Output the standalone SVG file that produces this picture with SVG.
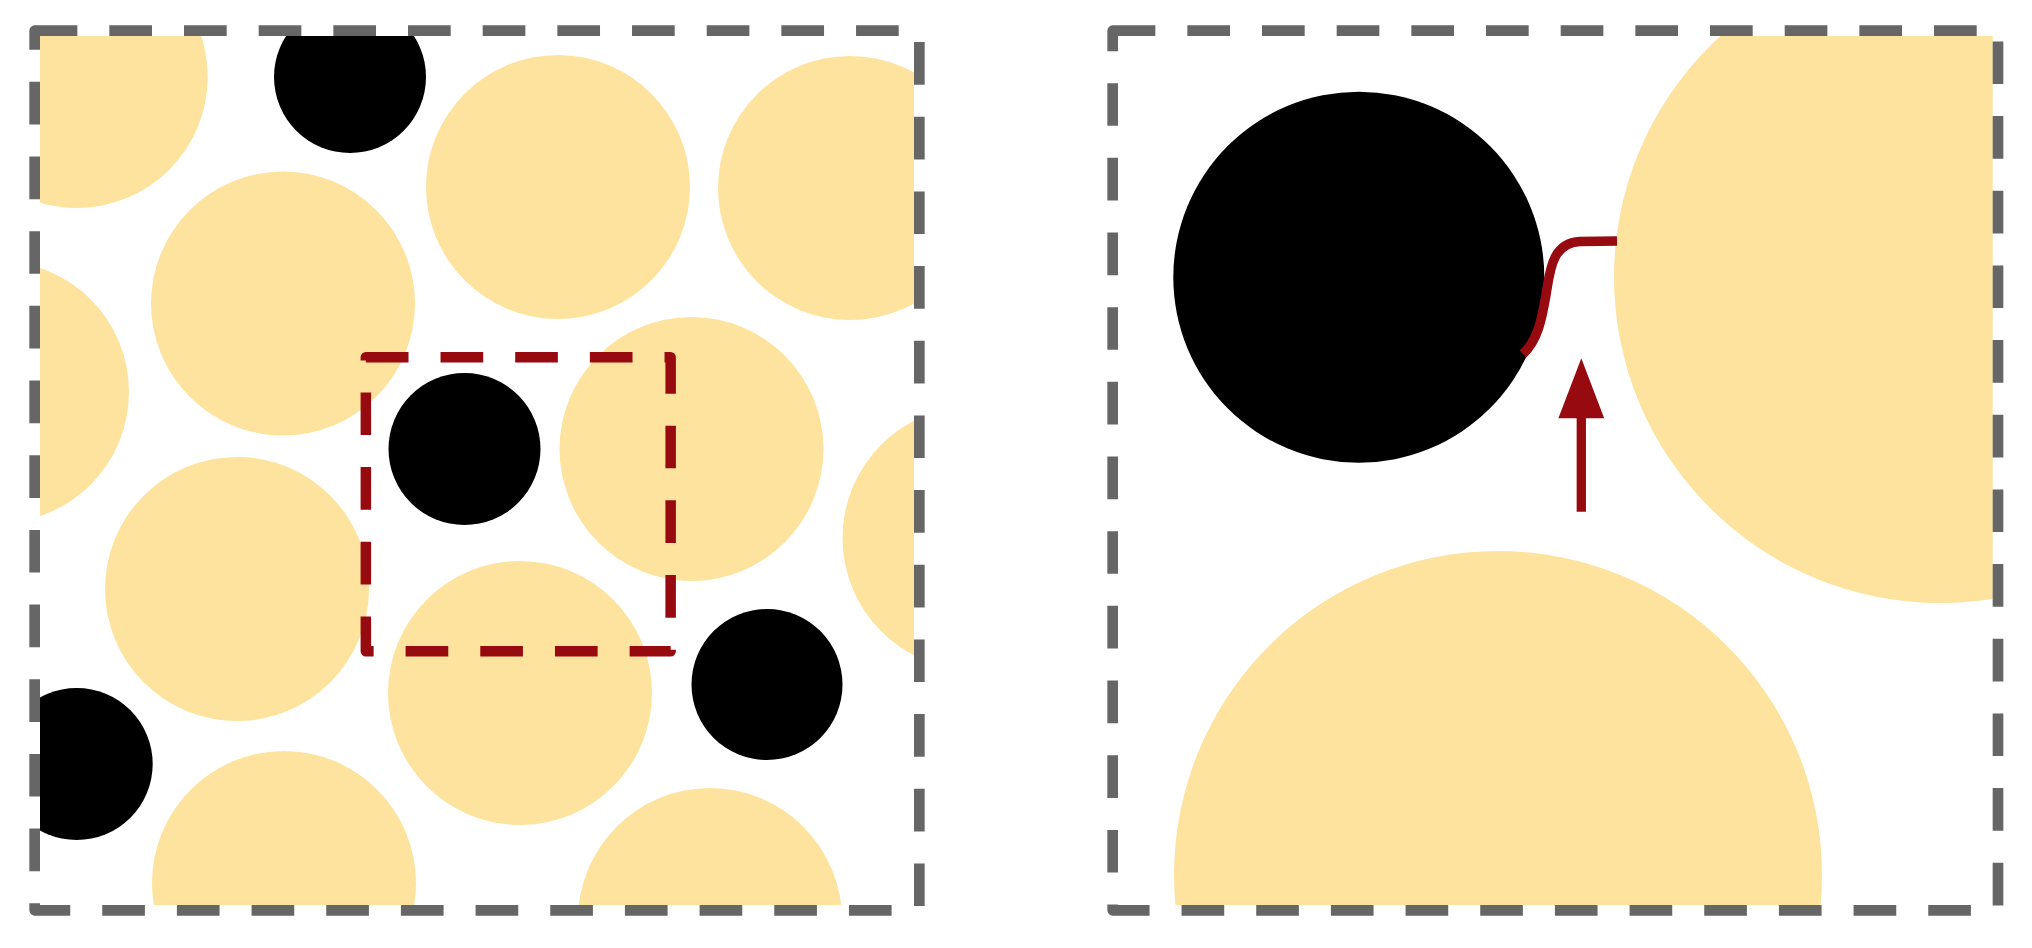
<svg xmlns="http://www.w3.org/2000/svg" width="2032" height="948" viewBox="0 0 2032 948">
  <style>
    .y { fill: #FEE39E; }
    .k { fill: #000000; }
    .frame { fill: none; stroke: #666666; stroke-width: 10.67; stroke-dasharray: 42.67 32; stroke-linejoin: round; }
    .zoom { fill: none; stroke: #960A10; stroke-width: 10.5; stroke-dasharray: 42.67 32; stroke-linejoin: round; }
    .red { fill: none; stroke: #960A10; stroke-width: 9.5; stroke-linecap: butt; }
  </style>
  <defs>
    <clipPath id="clipL"><rect x="40" y="36" width="874" height="869"/></clipPath>
    <clipPath id="clipR"><rect x="1118" y="36" width="874.7" height="869"/></clipPath>
  </defs>
  <rect width="2032" height="948" fill="#ffffff"/>

  <g id="left-panel">
    <g id="left-particles" clip-path="url(#clipL)">
      <circle id="y1" class="y" cx="76.7" cy="77" r="131"/>
      <circle id="k1" class="k" cx="350" cy="77" r="76"/>
      <circle id="y2" class="y" cx="558" cy="187" r="132"/>
      <circle id="y3" class="y" cx="850" cy="188" r="132"/>
      <circle id="y4" class="y" cx="283" cy="303.5" r="132"/>
      <circle id="y5" class="y" cx="-2" cy="392" r="131"/>
      <circle id="k2" class="k" cx="464.5" cy="449" r="76"/>
      <circle id="y6" class="y" cx="691.5" cy="449" r="132"/>
      <circle id="y9" class="y" cx="974.5" cy="538" r="132"/>
      <circle id="y7" class="y" cx="237" cy="589" r="132"/>
      <circle id="y8" class="y" cx="520" cy="693" r="132"/>
      <circle id="k3" class="k" cx="767" cy="684.5" r="75.5"/>
      <circle id="k4" class="k" cx="76.7" cy="764" r="76"/>
      <circle id="y10" class="y" cx="284" cy="883" r="132"/>
      <circle id="y11" class="y" cx="710" cy="920" r="132"/>
    </g>
    <rect id="left-frame" class="frame" x="34.67" y="30.67" width="884.67" height="879.67"/>
    <rect id="zoom-window" class="zoom" x="365.85" y="357.15" width="304.8" height="294.2"/>
  </g>

  <g id="right-panel">
    <g id="right-particles" clip-path="url(#clipR)">
      <circle id="big-black" class="k" cx="1358.8" cy="277.2" r="185.5"/>
      <circle id="big-yellow-top" class="y" cx="1940" cy="277" r="326"/>
      <circle id="big-yellow-bottom" class="y" cx="1498" cy="875" r="324"/>
    </g>
    <rect id="right-frame" class="frame" x="1112.67" y="30.67" width="885.33" height="879.67"/>
  </g>

  <g id="connectors">
    <path id="bridge" class="red" d="M1523,354 C1538,340 1542,318 1546,295 C1550,270 1552,243 1580,241.5 L1617,241"/>
    <line id="arrow-shaft" x1="1581.3" y1="511.7" x2="1581.3" y2="416" stroke="#960A10" stroke-width="9.3"/>
    <polygon id="arrow-head" points="1581.3,358.3 1604.2,418.3 1558.4,418.3" fill="#960A10"/>
  </g>
</svg>
